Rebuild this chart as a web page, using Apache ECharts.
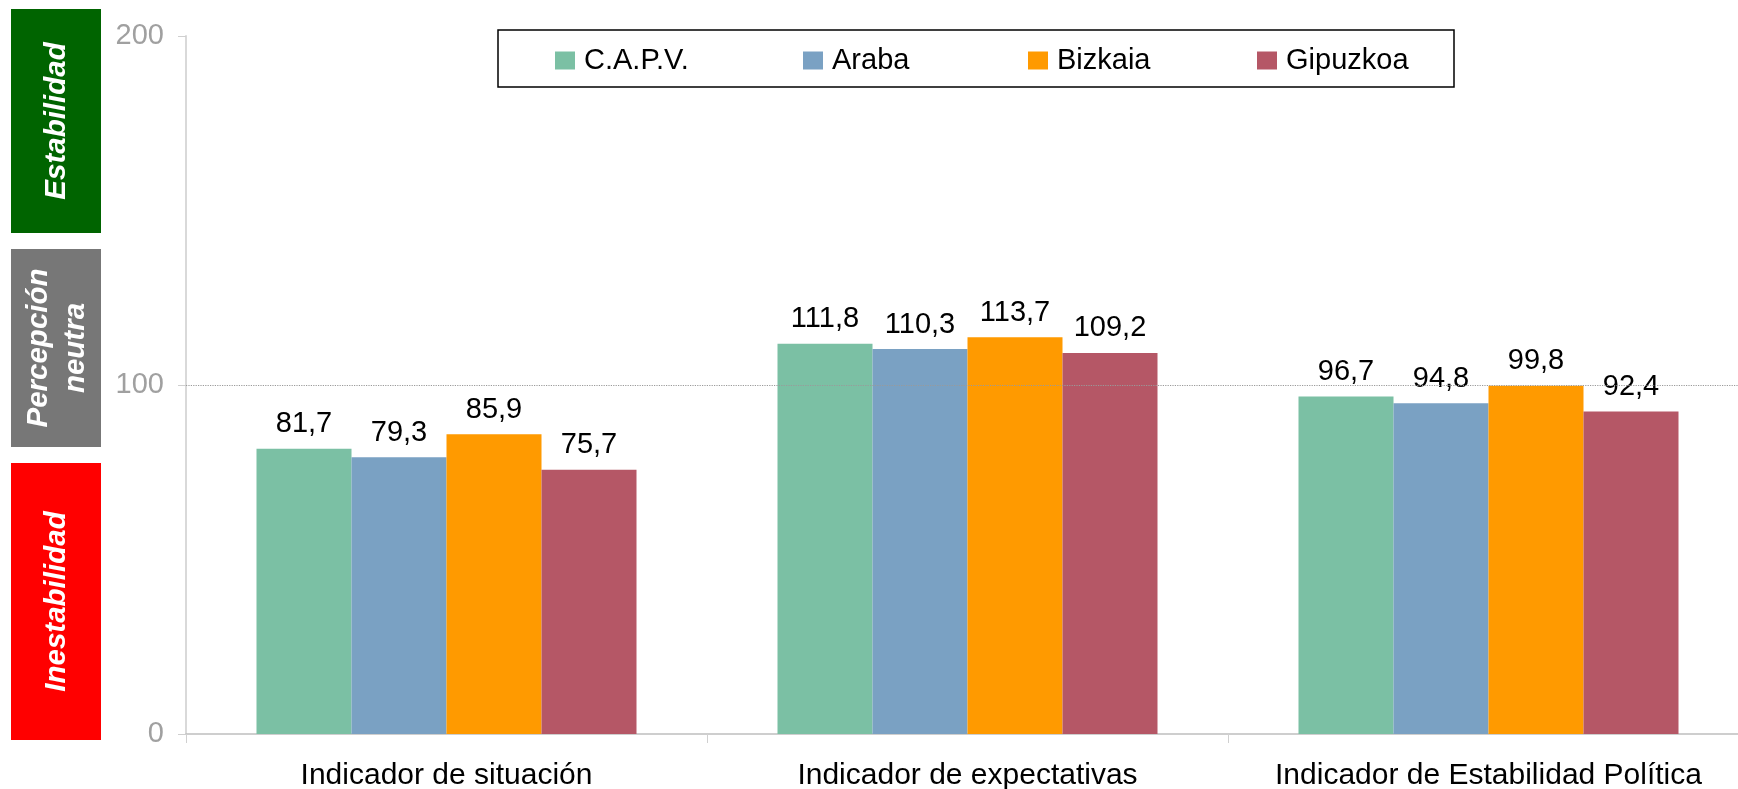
<!DOCTYPE html>
<html>
<head>
<meta charset="utf-8">
<script src="https://cdn.jsdelivr.net/npm/echarts@6/dist/echarts.min.js"></script>
<style>
  html, body { margin: 0; padding: 0; background: #fff; }
  #main { width: 1738px; height: 789px; }
</style>
</head>
<body>
<div id="main"></div>
<script>
// categorias y series
var categorias = ['Indicador de situación', 'Indicador de expectativas', 'Indicador de Estabilidad Política']
var serieNombres = ['C.A.P.V.', 'Araba', 'Bizkaia', 'Gipuzkoa']
var capv = [81.7, 111.8, 96.7]
var araba = [79.3, 110.3, 94.8]
var bizkaia = [85.9, 113.7, 99.8]
var gipuzkoa = [75.7, 109.2, 92.4]
var yTicks = [0, 100, 200]
var referencia = 100

var colores = ['#7BC0A4', '#7AA1C3', '#FF9A00', '#B55766']
var FONT = 'Liberation Sans, Arial, sans-serif'
var leyendaX = [555, 803, 1028, 1257]//posicion de cada elemento de la leyenda

var chart = echarts.init(document.getElementById('main'))

function serie(nombre, datos, i) {
  var s = {
    name: nombre,
    type: 'bar',
    data: datos,
    barWidth: 95,
    barGap: '0%',
    itemStyle: { color: colores[i] },
    label: {
      show: true,
      position: 'top',
      distance: 10,
      color: '#000',
      fontSize: 29,
      fontFamily: FONT,
      formatter: function (p) { return p.value.toFixed(1).replace('.', ',') }
    }
  }
  if (i === 0) {
    s.markLine = {
      silent: true,
      symbol: ['none', 'none'],
      label: { show: false },
      lineStyle: { color: '#9a9a9a', type: 'dotted', width: 1.2 },
      data: [{ yAxis: referencia }]
    }
  }
  return s
}

//cajas de la izquierda
function caja(y, h, color, texto, lh) {
  return [
    { type: 'rect', shape: { x: 11, y: y, width: 90, height: h }, style: { fill: color }, z: 10 },
    {
      type: 'text', x: 57, y: y + h / 2, rotation: Math.PI / 2, z: 11,
      style: {
        text: texto, fill: '#fff', font: 'italic bold 29.5px ' + FONT,
        align: 'center', verticalAlign: 'middle', lineHeight: lh || 30
      }
    }
  ]
}

var graficos = []
  .concat(caja(9, 224, '#006400', 'Estabilidad'))
  .concat(caja(249, 198, '#777777', 'Percepción\nneutra', 37))
  .concat(caja(463, 277, '#FF0000', 'Inestabilidad'))
graficos.push({
  type: 'rect', shape: { x: 498, y: 30, width: 956, height: 57 },
  style: { fill: 'none', stroke: '#000', lineWidth: 1.5 }, z: 5
})

var leyendas = serieNombres.map(function (n, i) {
  return {
    data: [n],
    left: leyendaX[i],
    top: 46,
    padding: 0,
    itemWidth: 20,
    itemHeight: 18,
    icon: 'rect',
    textStyle: { fontSize: 29, fontFamily: FONT, color: '#000', padding: [0, 0, 0, 4] }
  }
})

chart.setOption({
  animation: false,
  backgroundColor: '#fff',
  // el eje sigue un poco fuera del borde derecho
  grid: { left: 186, width: 1563, top: 36, bottom: 55, outerBoundsMode: 'none', containLabel: false },
  legend: leyendas,
  xAxis: {
    type: 'category',
    data: categorias,
    axisLine: { lineStyle: { color: '#bfbfbf', width: 1.5 } },
    axisTick: { show: true, length: 9, lineStyle: { color: '#d0d0d0' } },
    axisLabel: { color: '#000', fontSize: 30, fontFamily: FONT, margin: 27, interval: 0 }
  },
  yAxis: {
    type: 'value',
    min: yTicks[0],
    max: yTicks[yTicks.length - 1],
    interval: yTicks[1] - yTicks[0],
    axisLine: { show: true, lineStyle: { color: '#d9d9d9', width: 2 } },
    axisTick: { show: true, length: 8, lineStyle: { color: '#cfcfcf' } },
    splitLine: { show: false },
    axisLabel: { color: '#a0a0a0', fontSize: 29, fontFamily: FONT, margin: 22 }
  },
  graphic: graficos,
  series: [
    serie(serieNombres[0], capv, 0),
    serie(serieNombres[1], araba, 1),
    serie(serieNombres[2], bizkaia, 2),
    serie(serieNombres[3], gipuzkoa, 3)
  ]
})
</script>
</body>
</html>
